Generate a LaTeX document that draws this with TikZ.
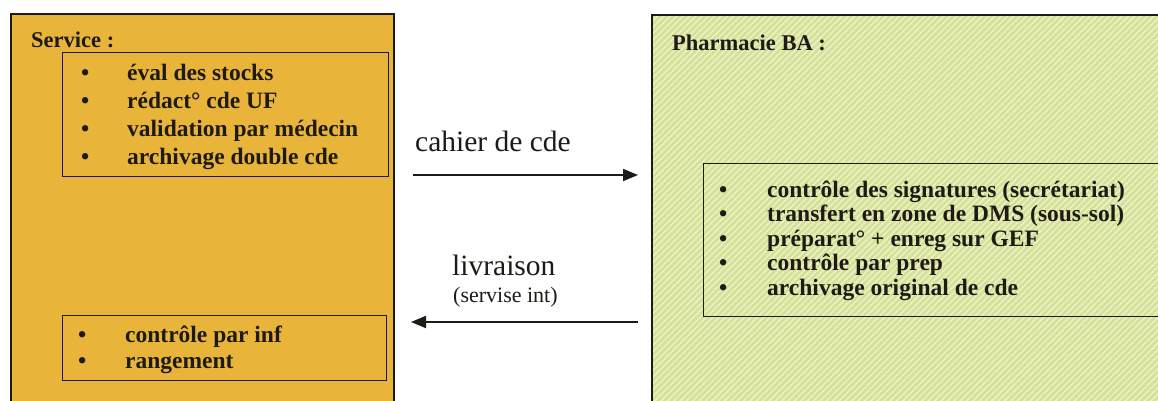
\documentclass[tikz,border=0pt]{standalone}
\usepackage{fontspec}
\setmainfont{Liberation Serif}
\usetikzlibrary{arrows.meta,patterns.meta}
\definecolor{gold}{RGB}{233,180,58}
\definecolor{pale}{RGB}{212,225,150}
\definecolor{stripe}{RGB}{236,242,200}
\definecolor{ink}{RGB}{30,26,22}
\begin{document}
\begin{tikzpicture}[x=1pt,y=-1pt,
  bigbox/.style={draw=ink, line width=2pt, inner sep=0pt, anchor=north west},
  innerbox/.style={draw=ink, line width=1.4pt, inner sep=0pt, anchor=north west},
  goldfill/.style={fill=gold},
  hatchfill/.style={preaction={fill=pale}, pattern={Lines[angle=45,distance=4.5pt,line width=1.5pt]}, pattern color=stripe},
  titletext/.style={font=\bfseries\fontsize{22.5}{27}\selectfont, inner sep=0pt, anchor=base west, text=ink},
  listA/.style={font=\bfseries\fontsize{23.5}{28.3}\selectfont, inner sep=0pt, anchor=base west, text=ink},
  listB/.style={font=\bfseries\fontsize{23.5}{24.5}\selectfont, inner sep=0pt, anchor=base west, text=ink},
  listC/.style={font=\bfseries\fontsize{23.5}{26}\selectfont, inner sep=0pt, anchor=base west, text=ink},
  flowtext/.style={font=\fontsize{29.5}{34}\selectfont, inner sep=0pt, anchor=base west, text=ink},
  smalltext/.style={font=\fontsize{22}{26}\selectfont, inner sep=0pt, anchor=base west, text=ink},
  flow/.style={draw=ink, line width=1.8pt, -{Triangle[length=15pt,width=12pt]}}
]
\useasboundingbox (0,0) rectangle (1158,400);
\clip (0,0) rectangle (1158,400);
\fill[white] (0,0) rectangle (1158,400);

% left big box
\node[bigbox, goldfill, minimum width=383pt, minimum height=420pt] (svc) at (10,13) {};
\node[titletext] (svcT) at (31,47) {Service :};
\node[innerbox, minimum width=326pt, minimum height=124pt] (svcA) at (62,52) {};
\node[listA] (svcAL) at (81,80) {\begin{tabular}[t]{@{}p{46pt}@{}l@{}}
\textbullet & éval des stocks\\
\textbullet & rédact° cde UF\\
\textbullet & validation par médecin\\
\textbullet & archivage double cde
\end{tabular}};
\node[innerbox, minimum width=324pt, minimum height=65pt] (svcB) at (62,315) {};
\node[listC] (svcBL) at (78,342) {\begin{tabular}[t]{@{}p{47pt}@{}l@{}}
\textbullet & contrôle par inf\\
\textbullet & rangement
\end{tabular}};

% right big box
\node[bigbox, hatchfill, minimum width=530pt, minimum height=420pt] (pha) at (651,14) {};
\node[titletext] (phaT) at (672,50) {Pharmacie BA :};
\node[innerbox, minimum width=470pt, minimum height=153pt] (phaA) at (703,163) {};
\node[listB] (phaAL) at (719,197) {\begin{tabular}[t]{@{}p{48pt}@{}l@{}}
\textbullet & contrôle des signatures (secrétariat)\\
\textbullet & transfert en zone de DMS (sous-sol)\\
\textbullet & préparat° + enreg sur GEF\\
\textbullet & contrôle par prep\\
\textbullet & archivage original de cde
\end{tabular}};

% connectors
\coordinate (topS) at (413,175);
\coordinate (topE) at (638,175);
\coordinate (botS) at (638,322);
\coordinate (botE) at (411,322);
\draw[flow] (topS) -- (topE);
\draw[flow] (botS) -- (botE);
\node[flowtext] (lab1) at (415,151) {cahier de cde};
\node[flowtext] (lab2) at (452,275) {livraison};
\node[smalltext] (lab3) at (453,302) {(servise int)};
\end{tikzpicture}
\end{document}
